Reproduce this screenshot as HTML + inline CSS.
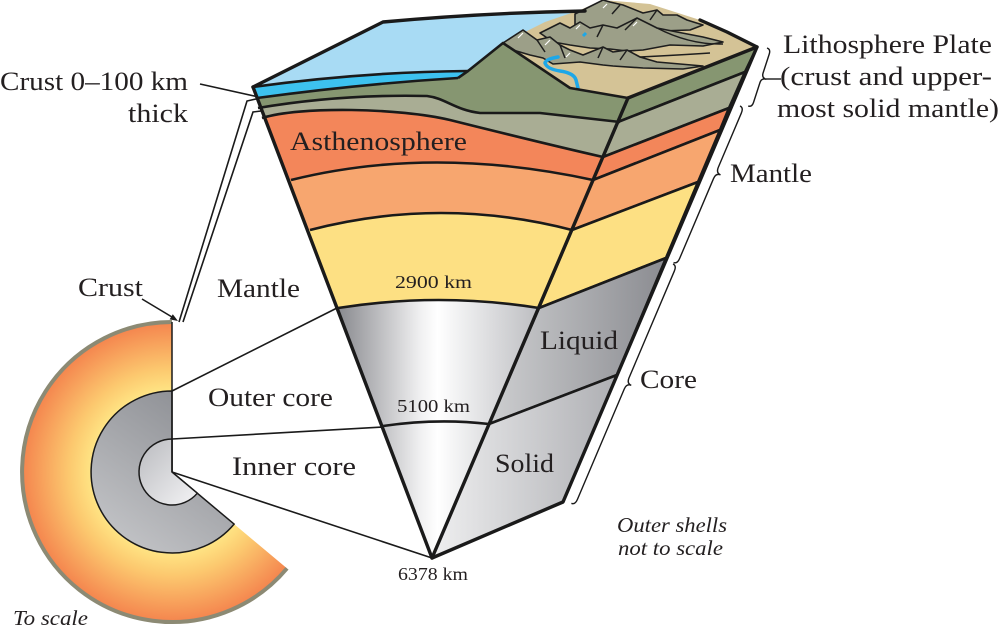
<!DOCTYPE html>
<html><head><meta charset="utf-8">
<style>
html,body{margin:0;padding:0;background:#fff;}
svg{display:block;}
text{font-family:"Liberation Serif",serif;fill:#231f20;}
.it{font-style:italic;}
</style></head><body>
<svg width="1000" height="628" viewBox="0 0 1000 628" xmlns="http://www.w3.org/2000/svg">
<defs>
<radialGradient id="gOr" cx="172" cy="472" r="151" gradientUnits="userSpaceOnUse">
<stop offset="0.52" stop-color="#ffe786"/>
<stop offset="0.68" stop-color="#fcc96f"/>
<stop offset="1" stop-color="#f4834d"/>
</radialGradient>
<linearGradient id="gOC" x1="205" y1="410" x2="110" y2="545" gradientUnits="userSpaceOnUse">
<stop offset="0" stop-color="#8f9196"/>
<stop offset="1" stop-color="#c4c5c8"/>
</linearGradient>
<linearGradient id="gIC" x1="140" y1="445" x2="195" y2="495" gradientUnits="userSpaceOnUse">
<stop offset="0" stop-color="#bdbec2"/>
<stop offset="1" stop-color="#eeeef0"/>
</linearGradient>
<linearGradient id="gL" x1="330" y1="0" x2="545" y2="0" gradientUnits="userSpaceOnUse">
<stop offset="0" stop-color="#7f8085"/>
<stop offset="0.42" stop-color="#f0f0f1"/>
<stop offset="0.5" stop-color="#ffffff"/>
<stop offset="1" stop-color="#b8b9bd"/>
</linearGradient>
<linearGradient id="gLq" x1="495" y1="0" x2="665" y2="0" gradientUnits="userSpaceOnUse">
<stop offset="0" stop-color="#cbccce"/>
<stop offset="1" stop-color="#8b8c91"/>
</linearGradient>
<linearGradient id="gS" x1="435" y1="0" x2="617" y2="0" gradientUnits="userSpaceOnUse">
<stop offset="0" stop-color="#eeeeef"/>
<stop offset="1" stop-color="#aeafb3"/>
</linearGradient>
<clipPath id="cl"><polygon points="240,0 253,87 432,558 628,98 628,0"/></clipPath>
</defs>

<!-- To-scale circle -->
<path d="M172,472 L287,568.4 A150,150 0 1 1 172,322 Z" fill="url(#gOr)"/>
<path d="M287,568.4 A150,150 0 1 1 172,322" fill="none" stroke="#8c8a74" stroke-width="4"/>
<path d="M172,472 L234.1,524.1 A81,81 0 1 1 172,391 Z" fill="url(#gOC)" stroke="#1a1a1a" stroke-width="1.5"/>
<path d="M172,472 L197.3,493.2 A33,33 0 1 1 172,439 Z" fill="url(#gIC)" stroke="#1a1a1a" stroke-width="1.5"/>
<line x1="172" y1="322" x2="172" y2="472" stroke="#1a1a1a" stroke-width="1.5"/>

<!-- connector lines -->
<g stroke="#1a1a1a" stroke-width="1.6" fill="none">
<line x1="172" y1="391" x2="337" y2="308"/>
<line x1="172" y1="439" x2="383" y2="427"/>
<line x1="172" y1="472" x2="432" y2="558"/>
<polyline points="179,322 247,101 256,99"/>
<polyline points="183,322 253,112 261,111"/>
<line x1="142" y1="299" x2="172" y2="317"/>
<line x1="200" y1="84" x2="268" y2="99"/>
</g>
<polygon points="178,321 169.6,319.4 172.8,314.2" fill="#1a1a1a"/>
<polygon points="275,101 266.5,102.1 267.9,96.3" fill="#1a1a1a"/>

<!-- left face layers -->
<g clip-path="url(#cl)">
<path fill="#3dc2ef" d="M240,88 L253,87 Q360,72 468,71 L472,90 L472,600 L200,600 Z"/>
<path fill="#869671" d="M240,98 L257,98 Q360,84 458,78 L503,43 L570,88 L628,98 L700,98 L700,600 L200,600 Z"/>
<path fill="#a9ad94" d="M240,108 L258,108 Q340,94 427,96 C445,98 455,110 480,113 L540,113 L620,122 L700,122 L700,600 L200,600 Z"/>
<path fill="#f3865a" d="M240,118 L262,118 C300,106 400,108 450,120 C490,130 550,145 603,157 L700,157 L700,600 L200,600 Z"/>
<path fill="#f7a66f" d="M240,180 L291,180 Q432,145 593,180 L700,180 L700,600 L200,600 Z"/>
<path fill="#fde083" d="M240,230 L310,230 Q441,196 572,230 L700,230 L700,600 L200,600 Z"/>
<path fill="url(#gL)" d="M240,308 L338,308 Q439,292 539,308 L700,308 L700,600 L200,600 Z"/>
</g>

<!-- right face layers -->
<g stroke="#1a1a1a" stroke-width="2.6" stroke-linejoin="round">
<polygon fill="#869671" points="628,98 757,47 745,72 618,122"/>
<polygon fill="#a9ad94" points="618,122 745,72 729,108 603,157"/>
<polygon fill="#f3865a" points="603,157 729,108 720,130 593,180"/>
<polygon fill="#f7a66f" points="593,180 720,130 698,182 572,230"/>
<polygon fill="#fde083" points="572,230 698,182 666,258 539,308"/>
<polygon fill="url(#gLq)" points="539,308 666,258 617,375 489,424"/>
<polygon fill="url(#gS)" points="489,424 617,375 563,502 432,558"/>
</g>

<!-- ocean surface -->
<path d="M253,87 L383,22 Q480,13 585,11 L585,30 L503,43 L468,71 Q360,72 253,87 Z" fill="#a8dbf4"/>
<!-- land surface -->
<path d="M503,43 L545,22 L580,10 L603,0 L650,4 L700,20 L727,32 L757,47 L628,98 L570,88 Z" fill="#d4c396"/>

<!-- mountains -->
<g fill="#9c9f88" stroke="#1e1e1e" stroke-width="1.6" stroke-linejoin="round">
<polygon points="575,14 587,8 603,0 610,2 623,5 643,13 657,10 663,15 677,15 687,20 703,25 690,30 660,31 630,30 600,30 575,28"/>
<polygon points="540,33 560,23 570,28 580,22 590,28 603,25 617,28 637,18 657,28 677,32 703,37 723,42 703,46 670,45 643,50 627,51 610,49 590,48 570,45 553,42"/>
<polygon points="503,43 523,30 537,40 550,37 560,45 570,50 583,55 603,47 613,52 627,50 640,57 657,62 703,66 683,69 643,68 613,66 603,65 580,62 553,64 543,58 530,55 513,50"/>
</g>
<g fill="none" stroke="#1e1e1e" stroke-width="1.5">
<path d="M537,40 L545,52"/>
<path d="M560,45 L565,58"/>
<path d="M603,25 L597,37"/>
<path d="M637,18 L625,30"/>
<path d="M603,47 L598,58"/>
<path d="M627,50 L620,60"/>
<path d="M657,28 Q690,45 723,44"/>
<path d="M640,57 Q680,55 710,53"/>
<path d="M620,5 L612,14"/>
<path d="M657,10 L650,20"/>
</g>
<g fill="none" stroke="#ffffff" stroke-width="1.2">
<path d="M523,33 L518,38"/>
<path d="M550,40 L545,45"/>
<path d="M570,53 L566,57"/>
<path d="M580,25 L576,29"/>
<path d="M607,4 L603,8"/>
<path d="M637,22 L633,26"/>
</g>
<path d="M558,57 Q546,59 545,63 Q547,69 560,71 Q574,73 576,80 L578,88" fill="none" stroke="#1da7e8" stroke-width="3.5" stroke-linecap="round"/>
<path d="M583,36 L586,33" stroke="#1da7e8" stroke-width="3"/>

<!-- left face boundary lines -->
<g fill="none" stroke="#1a1a1a" stroke-width="2.6" stroke-linejoin="round">
<path d="M253,87 Q360,72 468,71"/>
<path d="M257,98 Q360,84 458,78"/>
<path d="M458,78 L468,71 L503,43 L570,88 L628,98"/>
<path d="M258,108 Q340,94 427,96 C445,98 455,110 480,113 L540,113 L620,122"/>
<path d="M262,118 C300,106 400,108 450,120 C490,130 550,145 603,157"/>
<path d="M291,180 Q432,145 593,180"/>
<path d="M310,230 Q441,196 572,230"/>
<path d="M338,308 Q439,292 539,308"/>
<path d="M383,426 Q437,418 489,424"/>
</g>
<!-- outlines -->
<g fill="none" stroke="#1a1a1a" stroke-width="3.4" stroke-linejoin="round" stroke-linecap="round">
<path d="M253,87 L383,22 Q480,13 585,11"/>
<path d="M700,20 L727,32 L757,47 L628,98"/>
<path d="M253,87 L432,558 L563,502 L757,47"/>
<path d="M628,98 L432,558"/>
</g>

<!-- braces -->
<g fill="none" stroke="#1a1a1a" stroke-width="1.4">
<path transform="translate(767,48) rotate(18)" d="M0,0 Q4,0 4,5 L4,25 Q4,30 9,30 Q4,30 4,35 L4,56 Q4,61 0,61"/>
<line x1="766" y1="79" x2="781" y2="79"/>
<path transform="translate(740,106) rotate(23)" d="M0,0 Q4,0 4,6 L4,65 Q4,71 9,71 Q4,71 4,77 L4,164 Q4,170 0,170"/>
<path transform="translate(673,264) rotate(23)" d="M0,0 Q4,0 4,6 L4,122 Q4,128 9,128 Q4,128 4,134 L4,254 Q4,260 0,260"/>
</g>

<!-- labels -->
<g font-size="26">
<text x="0" y="90" textLength="188" lengthAdjust="spacingAndGlyphs">Crust 0–100 km</text>
<text x="128" y="122" textLength="60" lengthAdjust="spacingAndGlyphs">thick</text>
<text x="78" y="296" textLength="65" lengthAdjust="spacingAndGlyphs">Crust</text>
<text x="217" y="297" textLength="83" lengthAdjust="spacingAndGlyphs">Mantle</text>
<text x="290" y="150" textLength="177" lengthAdjust="spacingAndGlyphs">Asthenosphere</text>
<text x="540" y="349" textLength="78" lengthAdjust="spacingAndGlyphs">Liquid</text>
<text x="640" y="388" textLength="57" lengthAdjust="spacingAndGlyphs">Core</text>
<text x="208" y="406" textLength="125" lengthAdjust="spacingAndGlyphs">Outer core</text>
<text x="232" y="475" textLength="124" lengthAdjust="spacingAndGlyphs">Inner core</text>
<text x="495" y="472" textLength="59" lengthAdjust="spacingAndGlyphs">Solid</text>
<text x="783" y="53" textLength="209" lengthAdjust="spacingAndGlyphs">Lithosphere Plate</text>
<text x="780" y="85" textLength="212" lengthAdjust="spacingAndGlyphs">(crust and upper-</text>
<text x="777" y="117" textLength="222" lengthAdjust="spacingAndGlyphs">most solid mantle)</text>
<text x="730" y="182" textLength="82" lengthAdjust="spacingAndGlyphs">Mantle</text>
</g>
<g font-size="18">
<text x="395" y="288" textLength="77" lengthAdjust="spacingAndGlyphs">2900 km</text>
<text x="397" y="412" textLength="73" lengthAdjust="spacingAndGlyphs">5100 km</text>
<text x="398" y="580" textLength="70" lengthAdjust="spacingAndGlyphs">6378 km</text>
</g>
<g font-size="21" class="it">
<text class="it" x="617" y="532" textLength="110" lengthAdjust="spacingAndGlyphs">Outer shells</text>
<text class="it" x="618" y="555" textLength="105" lengthAdjust="spacingAndGlyphs">not to scale</text>
<text class="it" x="13" y="625" textLength="75" lengthAdjust="spacingAndGlyphs">To scale</text>
</g>
</svg>
</body></html>
